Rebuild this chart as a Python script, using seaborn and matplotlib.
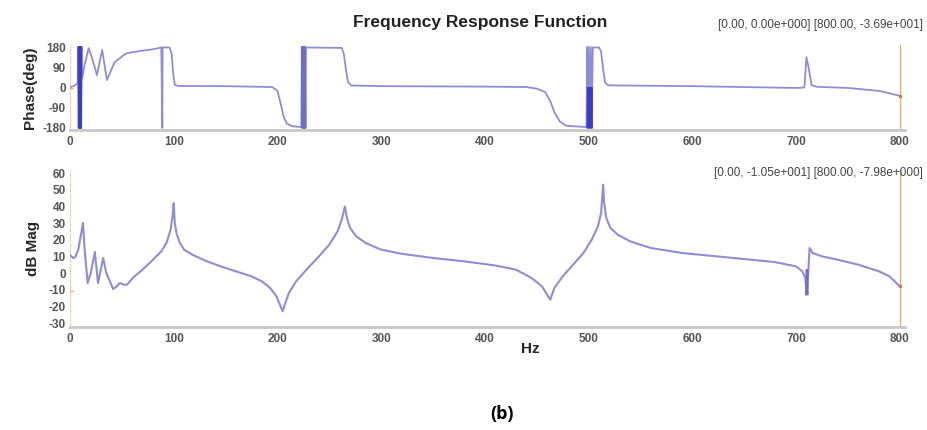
import numpy as np
import pandas as pd
import matplotlib.pyplot as plt
import seaborn as sns

# phase curve (Hz, deg); wraps at +/-180 kept as data
phase_hz = [0, 4, 7.5, 8, 8.5, 9, 9.5, 10, 10.5, 11, 11.3, 12, 14, 18, 22, 26, 31, 35.6, 40, 43,
            48, 52, 55, 67, 80, 88, 89, 89.3, 96, 98, 99.5, 101, 104, 150, 195, 200, 203, 206,
            209, 214, 223, 223.5, 224, 224.5, 225, 225.5, 226, 226.5, 227, 227.5, 262, 264,
            266, 268, 271, 300, 400, 440, 450, 458, 463, 467, 472, 478, 498, 498.5, 499, 500,
            501, 502, 503, 504, 510, 512, 514, 516, 519, 530, 600, 700, 708, 710, 712, 715,
            720, 750, 780, 800]
phase_deg = [0, 8, 20, 180, -180, 180, -180, 180, -180, 180, 40, 47, 100, 175, 120, 55, 167, 33, 80, 113,
             130, 145, 153, 162, 170, 178, -180, 178, 178, 150, 60, 12, 7, 6, 2, -15, -70, -130,
             -160, -172, -176, 180, -180, 180, -180, 180, -180, 180, -180, 178, 176, 150,
             80, 25, 9, 6, 4, 2, -5, -20, -60, -110, -150, -170, -176, 180, -180, 180,
             -180, 180, -180, 178, 178, 160, 80, 20, 10, 9, 6, -2, 0, 135, 90, 10,
             3, -2, -15, -36.9]

# darker dense bands in the phase plot
band1_hz = [8, 8.4, 8.8, 9.2, 9.6, 10, 10.4, 10.8, 11.2]
band1_deg = [180, -180, 180, -180, 180, -180, 180, -180, 180]
band2_hz = [223.5, 224, 224.5, 225, 225.5, 226, 226.5, 227]
band2_deg = [180, -180, 180, -180, 180, -180, 180, -180]
band3_hz = [498.5, 499, 499.5, 500, 500.5, 501, 501.5, 502, 502.5, 503, 503.5]
band3_deg = [-180, 0, -180, 0, -180, 0, -180, 0, -180, 0, -180]

# magnitude curve (Hz, dB)
mag_hz = [0, 3, 5, 8, 12.5, 14, 17, 20, 24, 27, 32, 35, 41.6, 45, 48, 52, 55, 61, 70, 80,
          88, 93, 97, 99, 100, 101, 103, 106, 110, 118, 130, 145, 160, 175, 185, 193, 199,
          203, 205, 207, 211, 218, 228, 240, 250, 258, 262, 265, 267, 270, 276, 285, 300,
          320, 350, 380, 410, 430, 445, 455, 463, 467, 475, 485, 495, 503, 509, 512, 514,
          515, 517, 521, 528, 540, 560, 590, 640, 680, 700, 706, 709, 710, 711, 713, 716,
          725, 740, 760, 780, 790, 800]
mag_db = [10.8, 9, 9.5, 14, 30, 15, -6, 0, 12.6, -6, 9, 0, -9.6, -8, -6, -7, -7, -2.6, 2, 8,
          13, 18, 26, 35, 42, 30, 23, 18, 14, 11, 7.5, 4, 1, -2, -5, -9, -14,
          -20, -23, -19, -12, -5, 2, 10, 17, 25, 32, 40, 33, 27, 22, 18, 14,
          11.5, 9, 7, 4.5, 2, -3, -8, -16, -9, -2, 5, 12, 20, 28, 36, 53,
          42, 33, 27, 23, 19, 15, 12, 9, 6.5, 4, 1, -3, -13, -8, 15, 12,
          10, 8, 5, 1, -2, -7.98]
band4_hz = [709.5, 710, 710.5, 711, 711.5]
band4_db = [-13, 2, -13, 2, -13]

phase_ticks = [180, 90, 0, -90, -180]
mag_ticks = [60, 50, 40, 30, 20, 10, 0, -10, -20, -30]
hz_ticks = [0, 100, 200, 300, 400, 500, 600, 700, 800]

sns.set_style("white")
plt.rcParams['font.family'] = ['Liberation Sans', 'DejaVu Sans']

line_c = '#8e8ed4'
dark_c = '#3c3cc8'
mid_c = '#6e6ec8'
orange = '#f0a860'
tick_c = '#555555'

fig = plt.figure(figsize=(9.28, 4.30), dpi=100)
ax1 = fig.add_axes([70 / 928, 1 - 130 / 430, 835 / 928, 85 / 430])
ax2 = fig.add_axes([70 / 928, 1 - 327 / 430, 835 / 928, 157 / 430])

sns.lineplot(x=phase_hz, y=phase_deg, sort=False, estimator=None, color=line_c, lw=1.3, ax=ax1)
sns.lineplot(x=band1_hz, y=band1_deg, sort=False, estimator=None, color=dark_c, lw=1.2, ax=ax1)
sns.lineplot(x=band2_hz, y=band2_deg, sort=False, estimator=None, color=mid_c, lw=1.2, ax=ax1)
sns.lineplot(x=band3_hz, y=band3_deg, sort=False, estimator=None, color=dark_c, lw=1.0, ax=ax1)
sns.lineplot(x=mag_hz, y=mag_db, sort=False, estimator=None, color=line_c, lw=1.5, ax=ax2)
sns.lineplot(x=band4_hz, y=band4_db, sort=False, estimator=None, color=mid_c, lw=1.0, ax=ax2)

for ax, ticks, lim in [(ax1, phase_ticks, (-189, 189)), (ax2, mag_ticks, (-32.4, 61.8))]:
    ax.set_xlim(0, 805)
    ax.set_ylim(*lim)
    ax.set_xticks(hz_ticks)
    ax.set_yticks(ticks)
    ax.set_xticklabels([str(t) for t in hz_ticks])
    ax.set_yticklabels([str(t) for t in ticks])
    for s in ['top', 'right', 'left']:
        ax.spines[s].set_visible(False)
    ax.spines['bottom'].set_color('#c8c8c8')
    ax.spines['bottom'].set_linewidth(2)
    ax.tick_params(axis='x', direction='in', length=3, color='#b0b0b0', labelsize=8.5,
                   labelcolor=tick_c, pad=4)
    ax.tick_params(axis='y', length=0, labelsize=8.5, labelcolor=tick_c, pad=3)
    for lbl in ax.get_xticklabels() + ax.get_yticklabels():
        lbl.set_fontweight('bold')
    ax.axvline(0, color=orange, lw=0.8, ls=(0, (1, 1)))
    ax.axvline(800, color=orange, lw=0.9)

ax1.plot([0], [0], marker='_', color=orange, ms=5)
ax2.plot([0], [-10.5], marker='_', color=orange, ms=5)
ax1.plot([800], [-36.9], marker='.', color='#d07050', ms=3)
ax2.plot([800], [-7.98], marker='.', color='#d07050', ms=3)

ax1.set_ylabel('Phase(deg)', fontsize=11, fontweight='bold', labelpad=4)
ax2.set_ylabel('dB Mag', fontsize=11, fontweight='bold', labelpad=6)

fig.text(480 / 928, 1 - 22 / 430, 'Frequency Response Function', ha='center', va='center',
         fontsize=12.5, fontweight='bold', color='#222222')
fig.text(923 / 928, 1 - 25 / 430, '[0.00, 0.00e+000] [800.00, -3.69e+001]', ha='right',
         va='center', fontsize=8.5, color='#444444')
fig.text(923 / 928, 1 - 173 / 430, '[0.00, -1.05e+001] [800.00, -7.98e+000]', ha='right',
         va='center', fontsize=8.5, color='#444444')
fig.text(530 / 928, 1 - 349 / 430, 'Hz', ha='center', va='center', fontsize=11,
         fontweight='bold', color='#222222')
fig.text(502 / 928, 1 - 414 / 430, '(b)', ha='center', va='center', fontsize=13,
         fontweight='bold', color='black', family=['Open Sans', 'DejaVu Sans'])

fig.savefig('out.png', dpi=100)
